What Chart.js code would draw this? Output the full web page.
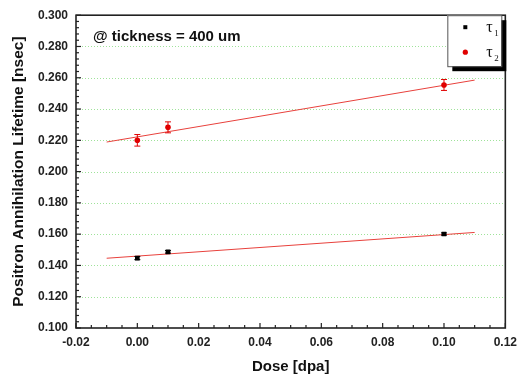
<!DOCTYPE html>
<html>
<head>
<meta charset="utf-8">
<script src="https://cdn.jsdelivr.net/npm/chart.js@4/dist/chart.umd.min.js"></script>
<style>
html,body{margin:0;padding:0;background:#fff;}
#wrap{width:524px;height:379px;position:relative;}
</style>
</head>
<body>
<div id="wrap"><canvas id="c" width="524" height="379"></canvas></div>
<script>
// ---- data ----
const doses = [0, 0.01, 0.1];
const tau1 = [0.1447, 0.1487, 0.1601];
const tau1Err = [0.0010, 0.0008, 0.0007];
const tau2 = [0.2200, 0.2283, 0.2554];
const tau2Err = [0.0037, 0.0035, 0.0035];
const fitX = [-0.01, 0.11];
const fit1 = [0.1446, 0.1611];
const fit2 = [0.2189, 0.2585];
const yTicks = [0.10, 0.12, 0.14, 0.16, 0.18, 0.20, 0.22, 0.24, 0.26, 0.28, 0.30];
const xTicks = [-0.02, 0.00, 0.02, 0.04, 0.06, 0.08, 0.10, 0.12];
const annotation = '@ tickness = 400 um';
const seriesNames = ['1', '2']; // subscripts of τ

const toPts = (xs, ys) => xs.map((x, i) => ({x: x, y: ys[i]}));

const errPlugin = {
  id: 'errbars',
  afterDatasetsDraw(chart) {
    const ctx = chart.ctx, xs = chart.scales.x, ys = chart.scales.y;
    const sets = [[tau1, tau1Err, '#000'], [tau2, tau2Err, '#e00000']];
    ctx.save();
    sets.forEach(([vals, errs, col]) => {
      ctx.strokeStyle = col; ctx.lineWidth = 1;
      vals.forEach((v, i) => {
        const px = xs.getPixelForValue(doses[i]);
        const y1 = ys.getPixelForValue(v + errs[i]);
        const y2 = ys.getPixelForValue(v - errs[i]);
        ctx.beginPath();
        ctx.moveTo(px, y1); ctx.lineTo(px, y2);
        ctx.moveTo(px - 3, y1); ctx.lineTo(px + 3, y1);
        ctx.moveTo(px - 3, y2); ctx.lineTo(px + 3, y2);
        ctx.stroke();
      });
    });
    ctx.restore();
  }
};

const framePlugin = {
  id: 'frame',
  beforeDatasetsDraw(chart) {
    const ctx = chart.ctx, a = chart.chartArea, ys = chart.scales.y;
    ctx.save();
    ctx.strokeStyle = '#9fe39a'; ctx.lineWidth = 1; ctx.setLineDash([1, 2]);
    yTicks.forEach(v => {
      if (v <= 0.1 + 1e-9 || v >= 0.3 - 1e-9) return;
      const py = Math.round(ys.getPixelForValue(v)) + 0.5;
      ctx.beginPath(); ctx.moveTo(a.left, py); ctx.lineTo(a.right, py); ctx.stroke();
    });
    ctx.restore();
  },
  afterDraw(chart) {
    const ctx = chart.ctx, a = chart.chartArea, xs = chart.scales.x, ys = chart.scales.y;
    ctx.save();
    // ticks (inward), major + minor
    ctx.strokeStyle = '#222'; ctx.lineWidth = 1.2;
    for (let i = 0; i < yTicks.length; i++) {
      const v = yTicks[i];
      const py = ys.getPixelForValue(v);
      ctx.beginPath(); ctx.moveTo(a.left, py); ctx.lineTo(a.left + 5, py); ctx.stroke();
      if (i < yTicks.length - 1) {
        const step = (yTicks[i + 1] - v) / 5;
        for (let k = 1; k < 5; k++) {
          const pm = ys.getPixelForValue(v + step * k);
          ctx.beginPath(); ctx.moveTo(a.left, pm); ctx.lineTo(a.left + 3, pm); ctx.stroke();
        }
      }
    }
    for (let i = 0; i < xTicks.length; i++) {
      const v = xTicks[i];
      const px = xs.getPixelForValue(v);
      ctx.beginPath(); ctx.moveTo(px, a.bottom); ctx.lineTo(px, a.bottom - 5); ctx.stroke();
      if (i < xTicks.length - 1) {
        const step = (xTicks[i + 1] - v) / 4;
        for (let k = 1; k < 4; k++) {
          const pm = xs.getPixelForValue(v + step * k);
          ctx.beginPath(); ctx.moveTo(pm, a.bottom); ctx.lineTo(pm, a.bottom - 3); ctx.stroke();
        }
      }
    }
    // frame
    ctx.strokeStyle = '#222'; ctx.lineWidth = 1.6;
    ctx.strokeRect(a.left, a.top, a.right - a.left, a.bottom - a.top);

    // annotation text
    ctx.fillStyle = '#111';
    ctx.font = 'bold 15px "Liberation Sans", Arial, sans-serif';
    ctx.textBaseline = 'alphabetic'; ctx.textAlign = 'left';
    ctx.fillText(annotation, a.left + 17, a.top + 26);

    // legend box with shadow
    const bx = a.right - 58, by = a.top, bw = 54, bh = 51;
    ctx.fillStyle = '#000';
    ctx.fillRect(bx + 5, by + 5, bw, bh);
    ctx.fillStyle = '#fff';
    ctx.fillRect(bx, by, bw, bh);
    ctx.strokeStyle = '#555'; ctx.lineWidth = 1;
    ctx.strokeRect(bx + 0.5, by + 0.5, bw, bh);
    // markers
    ctx.fillStyle = '#000';
    ctx.fillRect(bx + 16, by + 10, 4, 4);
    ctx.fillStyle = '#e00000';
    ctx.beginPath(); ctx.arc(bx + 18, by + 37, 2.6, 0, Math.PI * 2); ctx.fill();
    // labels
    ctx.fillStyle = '#111';
    [[by + 17, seriesNames[0]], [by + 42, seriesNames[1]]].forEach(([yy, sub]) => {
      ctx.font = '16px "Liberation Serif", "Times New Roman", serif';
      ctx.fillText('τ', bx + 39, yy);
      ctx.font = '9px "Liberation Serif", "Times New Roman", serif';
      ctx.fillText(sub, bx + 47, yy + 4);
    });
    ctx.restore();
  }
};

new Chart(document.getElementById('c'), {
  type: 'scatter',
  data: {
    datasets: [
      { label: 'fit1', data: toPts(fitX, fit1), showLine: true, borderColor: '#e8413c', borderWidth: 1, pointRadius: 0, order: 3 },
      { label: 'fit2', data: toPts(fitX, fit2), showLine: true, borderColor: '#e8413c', borderWidth: 1, pointRadius: 0, order: 3 },
      { label: 'τ1', data: toPts(doses, tau1), pointStyle: 'rect', pointRadius: 3.3, backgroundColor: '#000', borderColor: '#000', borderWidth: 0, order: 1 },
      { label: 'τ2', data: toPts(doses, tau2), pointStyle: 'circle', pointRadius: 2.8, backgroundColor: '#e00000', borderColor: '#e00000', borderWidth: 0, order: 1 }
    ]
  },
  options: {
    responsive: false,
    animation: false,
    layout: { padding: { top: 13, right: 18, left: 0, bottom: 0 } },
    plugins: { legend: { display: false }, tooltip: { enabled: false } },
    scales: {
      x: {
        type: 'linear', min: -0.02, max: 0.12,
        afterBuildTicks: s => { s.ticks = xTicks.map(v => ({value: v})); },
        afterFit: s => { s.height = 51; },
        grid: { display: false, drawTicks: false },
        border: { display: false },
        ticks: { padding: 7, color: '#222', font: { family: '"Liberation Sans", Arial, sans-serif', size: 12, weight: 'bold' },
          callback: v => Number(v).toFixed(2), maxRotation: 0 },
        title: { display: true, text: 'Dose [dpa]', color: '#111', padding: { top: 4, bottom: 3 },
          font: { family: '"Liberation Sans", Arial, sans-serif', size: 15, weight: 'bold' } }
      },
      y: {
        type: 'linear', min: 0.1, max: 0.3,
        afterBuildTicks: s => { s.ticks = yTicks.map(v => ({value: v})); },
        afterFit: s => { s.width = 76; },
        grid: { display: false, drawTicks: false },
        border: { display: false },
        ticks: { padding: 8, color: '#222', font: { family: '"Liberation Sans", Arial, sans-serif', size: 12, weight: 'bold' },
          callback: v => Number(v).toFixed(3) },
        title: { display: true, text: 'Positron Annihilation Lifetime [nsec]', color: '#111', padding: { top: 9, bottom: 0 },
          font: { family: '"Liberation Sans", Arial, sans-serif', size: 15.5, weight: 'bold' } }
      }
    }
  },
  plugins: [errPlugin, framePlugin]
});
</script>
</body>
</html>
